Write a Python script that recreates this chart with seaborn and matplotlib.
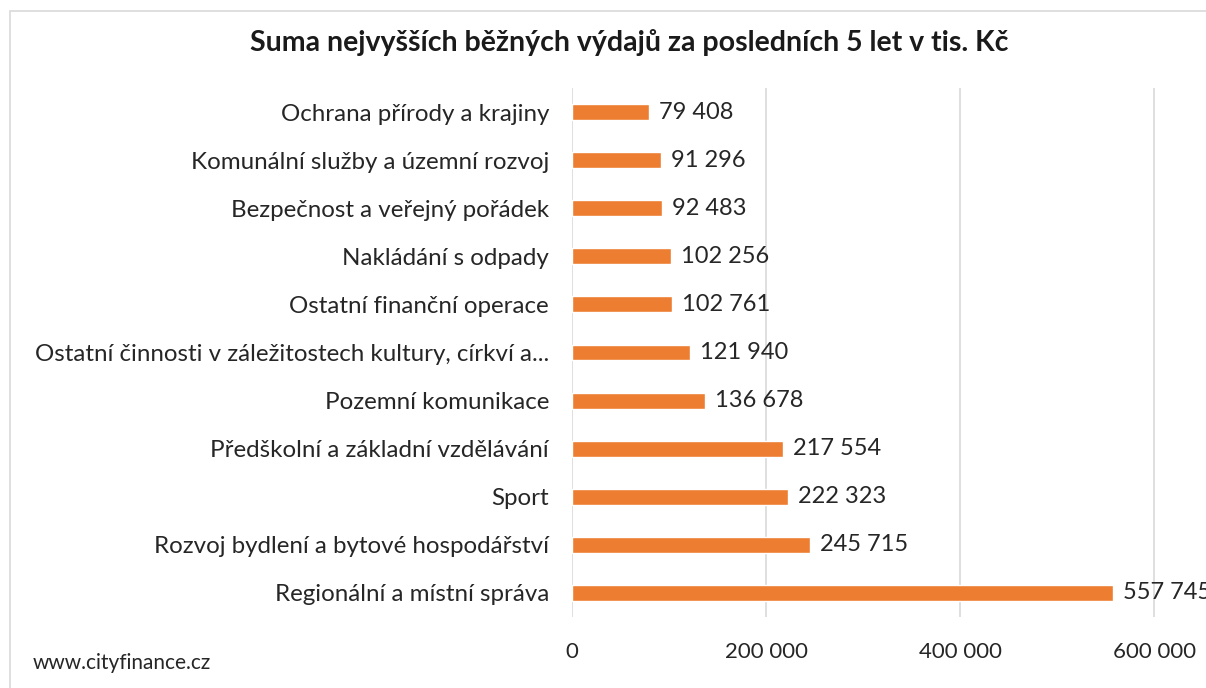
import matplotlib
matplotlib.use("Agg")
import matplotlib.pyplot as plt
import seaborn as sns
import pandas as pd
from matplotlib.patches import Rectangle

# ============================================================
# DATA
# ============================================================

categories = [
    "Ochrana přírody a krajiny",
    "Komunální služby a územní rozvoj",
    "Bezpečnost a veřejný pořádek",
    "Nakládání s odpady",
    "Ostatní finanční operace",
    "Ostatní činnosti v záležitostech kultury, církví a...",
    "Pozemní komunikace",
    "Předškolní a základní vzdělávání",
    "Sport",
    "Rozvoj bydlení a bytové hospodářství",
    "Regionální a místní správa",
]
values = [79408, 91296, 92483, 102256, 102761, 121940, 136678,
          217554, 222323, 245715, 557745]
xticks = [0, 200000, 400000, 600000]

title = "Suma nejvyšších běžných výdajů za posledních 5 let v tis. Kč"
source = "www.cityfinance.cz"

BAR_COLOR = "#ED7D31"
TEXT_COLOR = "#262626"


def fmt(v):
    return f"{v:,}".replace(",", " ")


df = pd.DataFrame({"kategorie": categories, "hodnota": values})

# ============================================================
# PLOT
# ============================================================

sns.set_theme(style="white")
plt.rcParams["font.family"] = ["Lato", "DejaVu Sans"]

W, H = 1206, 688
fig = plt.figure(figsize=(W / 100, H / 100), dpi=100)

# outer chart frame (cut off on the right and bottom like the screenshot)
fig.patches.append(Rectangle(
    (10 / W, -0.1), 1.2, 1 - 11 / H + 0.1,
    transform=fig.transFigure, fill=False,
    edgecolor="#D9D9D9", linewidth=1.2
))

# 200 000 = 194 px, axes extends past the right edge of the figure
x_max = 700000
ax_left, ax_bottom, ax_top = 572, 617, 88
ax_w = x_max / 200000 * 194.1
ax = fig.add_axes([ax_left / W, 1 - ax_bottom / H,
                   ax_w / W, (ax_bottom - ax_top) / H])

sns.barplot(
    data=df, y="kategorie", x="hodnota", orient="h",
    color=BAR_COLOR, saturation=1, width=0.33, ax=ax
)

ax.set_xlim(0, x_max)
ax.set_ylim(len(categories) - 0.5, -0.5)
ax.set_xticks(xticks)
ax.set_xticklabels([fmt(t) for t in xticks])
ax.grid(axis="x", color="#D9D9D9", linewidth=1.2)
ax.set_axisbelow(True)
for s in ax.spines.values():
    s.set_visible(False)
ax.set_xlabel("")
ax.set_ylabel("")
ax.tick_params(axis="y", length=0, pad=16.5, labelsize=17.4, labelcolor=TEXT_COLOR)
ax.tick_params(axis="x", length=0, pad=18, labelsize=16, labelcolor=TEXT_COLOR)

for i, v in enumerate(values):
    ax.annotate(fmt(v), (v, i), xytext=(10, 0), textcoords="offset pixels",
                va="center", ha="left", fontsize=17, color=TEXT_COLOR,
                annotation_clip=False)

fig.text(629 / W, 1 - 42 / H, title, ha="center", va="center",
         fontsize=20.5, fontweight="bold", color="#1a1a1a")
fig.text(33 / W, 1 - 663 / H, source, ha="left", va="center",
         fontsize=15, color=TEXT_COLOR)

fig.savefig("out.png", dpi=100)
